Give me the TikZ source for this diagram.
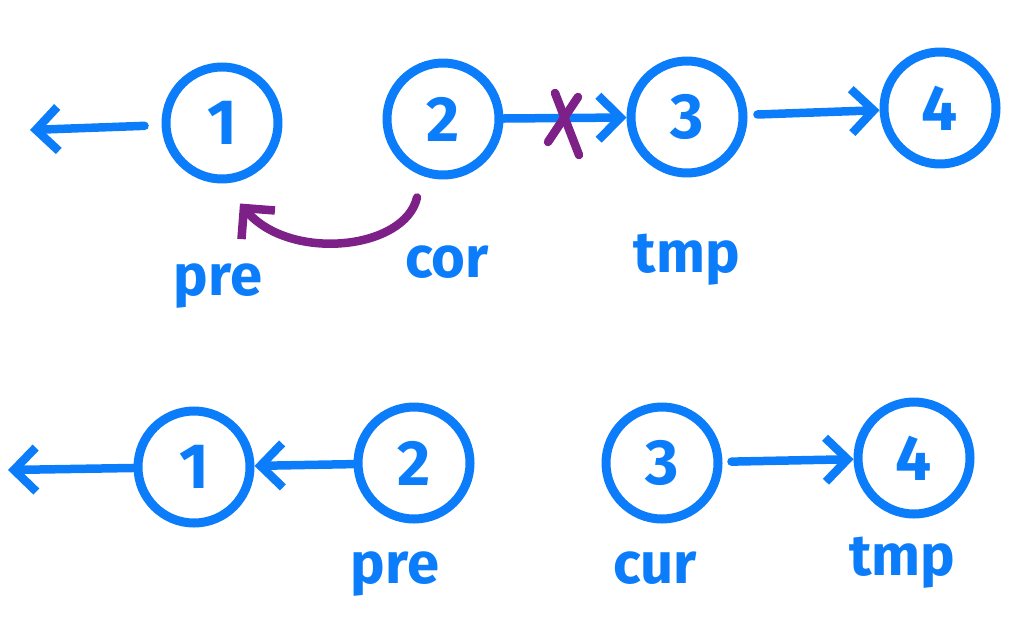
\documentclass[tikz,border=0pt]{standalone}
\usepackage{fontspec}
\setmainfont{Fira Sans}
\usetikzlibrary{arrows.meta,positioning}
\definecolor{penblue}{RGB}{12,125,250}
\definecolor{penpurple}{RGB}{125,32,135}

\begin{document}
\begin{tikzpicture}[x=1pt, y=-1pt, line cap=round, line join=round,
  listnode/.style={circle, draw=penblue, line width=9pt, minimum size=112pt, inner sep=0pt,
    text=penblue, font=\fontsize{64}{64}\bfseries},
  ptrlabel/.style={text=penblue, anchor=base, inner sep=0pt, font=\fontsize{58}{58}\bfseries},
  link/.style={draw=penblue, line width=8.5pt, -{Straight Barb[length=22pt,width=44pt]}},
  cross/.style={draw=penpurple, line width=8.5pt}]
  \useasboundingbox (0,0) rectangle (1024,635);

  % before: cur points back to pre
  \node[listnode] (t1) at (222,123) {1};
  \node[listnode] (t2) at (443,119) {2};
  \node[listnode] (t3) at (687,117) {3};
  \node[listnode] (t4) at (940,108) {4};
  \coordinate (tnull) at (30,130);
  \draw[link, shorten <=17pt] (t1) -- (tnull);
  \draw[link] (t2) -- (t3);
  \draw[link, shorten <=10pt] (t3) -- (t4);
  \draw[cross] (555,93) -- (579,155);
  \draw[cross] (548,142) -- (578,97);
  \coordinate (tfrom) at ([xshift=-26pt,yshift=-18pt]t2.south);
  \coordinate (tto) at ([xshift=18pt,yshift=-20pt]t1.south);
  \draw[cross, -{Straight Barb[length=22pt,width=44pt]}]
    (tfrom) .. controls (405,250) and (290,262) .. (tto);
  \node[ptrlabel] (tpre) at (218,295) {pre};
  \node[ptrlabel] (tcur) at (447,277) {cor};
  \node[ptrlabel] (ttmp) at (687,272) {tmp};

  % after: links reversed
  \node[listnode] (b1) at (194,467) {1};
  \node[listnode] (b2) at (414,463) {2};
  \node[listnode] (b3) at (662,463) {3};
  \node[listnode] (b4) at (914,458) {4};
  \coordinate (bnull) at (8,470);
  \draw[link] (b1) -- (bnull);
  \draw[link] (b2) -- (b1);
  \draw[link, shorten <=9pt] (b3) -- (b4);
  \node[ptrlabel] (bpre) at (395,583) {pre};
  \node[ptrlabel] (bcur) at (655,583) {cur};
  \node[ptrlabel] (btmp) at (902,575) {tmp};
\end{tikzpicture}
\end{document}
